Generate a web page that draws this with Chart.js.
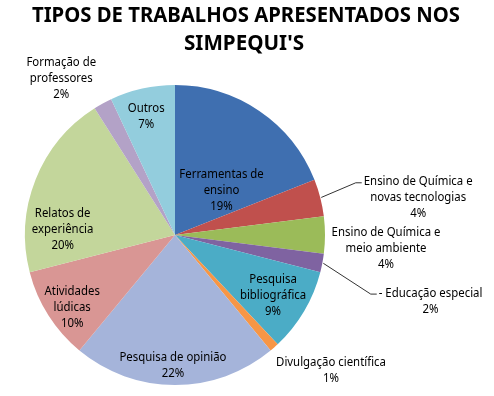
<!DOCTYPE html>
<html>
<head>
<meta charset="utf-8">
<script src="https://cdn.jsdelivr.net/npm/chart.js@4/dist/chart.umd.min.js"></script>
<style>
html,body{margin:0;padding:0;background:#fff;}
canvas{display:block;}
</style>
</head>
<body>
<canvas id="c" width="494" height="396"></canvas>
<script>
const titleLines = ['TIPOS DE TRABALHOS APRESENTADOS NOS', "SIMPEQUI'S"];
const categories = [
  ['Ferramentas de', 'ensino'],
  ['Ensino de Química e', 'novas tecnologias'],
  ['Ensino de Química e', 'meio ambiente'],
  ['- Educação especial'],
  ['Pesquisa', 'bibliográfica'],
  ['Divulgação científica'],
  ['Pesquisa de opinião'],
  ['Atividades', 'lúdicas'],
  ['Relatos de', 'experiência'],
  ['Formação de', 'professores'],
  ['Outros']
];
const values = [19, 4, 4, 2, 9, 1, 22, 10, 20, 2, 7];
const colors = ['#3F6FB0', '#C0504D', '#9BBB59', '#7F63A1', '#4BACC6', '#F79646',
                '#A5B4DA', '#D99694', '#C3D69B', '#B3A2C7', '#93CDDD'];

// label placement relative to each arc: [angle offset from mid (deg), radius ratio]
const labelPlace = [[12,0.43],[5.7,1.64],[3.8,1.41],[3.7,1.76],[1.3,0.77],[-7.5,1.38],
                    [0.9,0.87],[-2.9,0.84],[-18.6,0.75],[-7.2,1.29],[-1.1,0.81]];
const leaders = [1, 3];

const FONT = '12px "Noto Sans", "DejaVu Sans", sans-serif';
const LH = 16;
const SQUEEZE = 0.95;

const labelPlugin = {
  id: 'labels',
  afterDraw(chart) {
    const ctx = chart.ctx;
    ctx.save();
    ctx.fillStyle = '#000';
    ctx.textAlign = 'center';
    ctx.textBaseline = 'middle';
    ctx.font = 'bold 21px "Noto Sans", "DejaVu Sans", sans-serif';
    ctx.fillText(titleLines[0], 246, 16, 428);
    ctx.fillText(titleLines[1], 244, 44, 120);

    const meta = chart.getDatasetMeta(0);
    ctx.font = FONT;
    meta.data.forEach((arc, i) => {
      const p = arc.getProps(['x','y','startAngle','endAngle','outerRadius'], true);
      const mid = (p.startAngle + p.endAngle) / 2;
      const a = mid + labelPlace[i][0] * Math.PI / 180;
      const r = p.outerRadius * labelPlace[i][1];
      const cx = p.x + Math.cos(a) * r;
      const cy = p.y + Math.sin(a) * r;
      const lines = categories[i].concat([values[i] + '%']);
      const top = cy - (lines.length - 1) * LH / 2;
      if (leaders.includes(i)) {
        const left = cx - ctx.measureText(lines[0]).width * SQUEEZE / 2;
        const sx = p.x + Math.cos(mid) * (p.outerRadius + 1);
        const sy = p.y + Math.sin(mid) * (p.outerRadius + 1);
        const ey = top + 1;
        ctx.strokeStyle = '#333';
        ctx.lineWidth = 1;
        ctx.beginPath();
        ctx.moveTo(sx, sy);
        ctx.lineTo(left - 8, ey);
        ctx.lineTo(left - 2, ey);
        ctx.stroke();
      }
      ctx.fillStyle = '#000';
      lines.forEach((l, k) => {
        const w = ctx.measureText(l).width * SQUEEZE;
        ctx.fillText(l, cx, top + k * LH, w);
      });
    });
    ctx.restore();
  }
};

new Chart(document.getElementById('c'), {
  type: 'pie',
  data: {
    labels: categories.map(c => c.join(' ')),
    datasets: [{
      data: values,
      backgroundColor: colors,
      borderWidth: 0
    }]
  },
  options: {
    responsive: false,
    devicePixelRatio: 1,
    animation: false,
    layout: { padding: { left: 25, right: 169, top: 85, bottom: 11 } },
    plugins: {
      legend: { display: false },
      tooltip: { enabled: false },
      title: { display: false }
    }
  },
  plugins: [labelPlugin]
});
</script>
</body>
</html>
